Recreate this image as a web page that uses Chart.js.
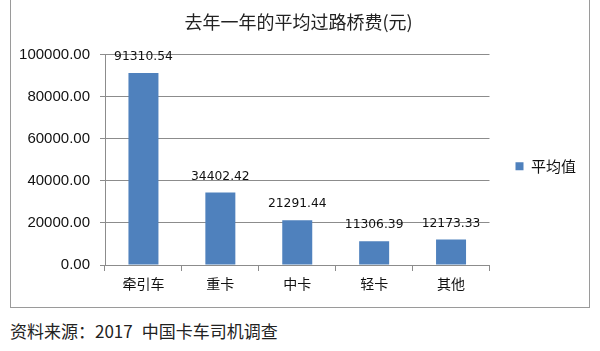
<!DOCTYPE html>
<html>
<head>
<meta charset="utf-8">
<script src="https://cdn.jsdelivr.net/npm/chart.js@4.4.0/dist/chart.umd.min.js"></script>
<style>
  body { margin: 0; background: #fff; width: 600px; height: 351px; position: relative; overflow: hidden; }
  #frame { position: absolute; left: 10px; top: -2px; width: 578px; height: 308px; border: 1px solid #9a9a9a; }
  #c { position: absolute; left: 11px; top: 0; }
  #note { position: absolute; left: 10px; top: 318px; font: 17px 'Noto Sans CJK SC', sans-serif; color: #222; white-space: pre; }
  #note span { margin-left: 9px; }
</style>
</head>
<body>
<div id="frame"></div>
<canvas id="c" width="578" height="306"></canvas>
<div id="note">资料来源：2017<span>中国卡车司机调查</span></div>
<script>
const categories = ['牵引车', '重卡', '中卡', '轻卡', '其他'];
const averages = [91310.54, 34402.42, 21291.44, 11306.39, 12173.33];
const yTicks = [0, 20000, 40000, 60000, 80000, 100000];

// value labels above each bar
const valueLabels = {
  id: 'valueLabels',
  afterDatasetsDraw(chart) {
    const ctx = chart.ctx;
    const meta = chart.getDatasetMeta(0);
    ctx.save();
    ctx.font = '12.3px "DejaVu Sans", sans-serif';
    ctx.fillStyle = '#111';
    ctx.textAlign = 'center';
    ctx.textBaseline = 'middle';
    meta.data.forEach((bar, i) => {
      ctx.fillText(averages[i].toFixed(2), bar.x, bar.y - 16);
    });
    ctx.restore();
  },
};

new Chart(document.getElementById('c').getContext('2d'), {
  type: 'bar',
  data: {
    labels: categories,
    datasets: [
      {
        label: '平均值',
        data: averages,
        backgroundColor: '#4f81bd',
        borderWidth: 0,
        barPercentage: 0.39,
        categoryPercentage: 1,
      },
    ],
  },
  options: {
    responsive: false,
    animation: false,
    layout: { padding: { left: 0, right: 3, top: 0, bottom: 0 } },
    scales: {
      x: {
        afterFit: (scale) => { scale.height = 41; },
        grid: {
          offset: true,
          drawOnChartArea: false,
          drawTicks: true,
          tickLength: 6,
          color: '#8c8c8c',
        },
        border: { color: '#8c8c8c' },
        ticks: {
          padding: 4,
          color: '#111',
          font: { family: '"Noto Sans CJK SC", sans-serif', size: 14 },
        },
      },
      y: {
        min: 0,
        max: 100000,
        afterFit: (scale) => { scale.width = 94; },
        afterBuildTicks: (scale) => { scale.ticks = yTicks.map((v) => ({ value: v })); },
        grid: {
          color: '#8c8c8c',
          tickLength: 5,
        },
        border: { color: '#8c8c8c' },
        ticks: {
          padding: 10,
          color: '#111',
          font: { family: '"Liberation Sans", sans-serif', size: 15 },
          callback: (value) => Number(value).toFixed(2),
        },
      },
    },
    plugins: {
      title: {
        display: true,
        text: '去年一年的平均过路桥费(元)',
        color: '#222',
        font: { family: '"Noto Sans CJK SC", sans-serif', size: 18, weight: 'normal' },
        padding: { top: 11, bottom: 22 },
      },
      legend: {
        display: true,
        position: 'right',
        title: { display: true, text: '', padding: { top: 12, bottom: 0 } },
        labels: {
          boxWidth: 8,
          boxHeight: 8,
          padding: 26,
          color: '#111',
          font: { family: '"Noto Sans CJK SC", sans-serif', size: 15 },
        },
      },
      tooltip: { enabled: false },
    },
  },
  plugins: [valueLabels],
});
</script>
</body>
</html>
